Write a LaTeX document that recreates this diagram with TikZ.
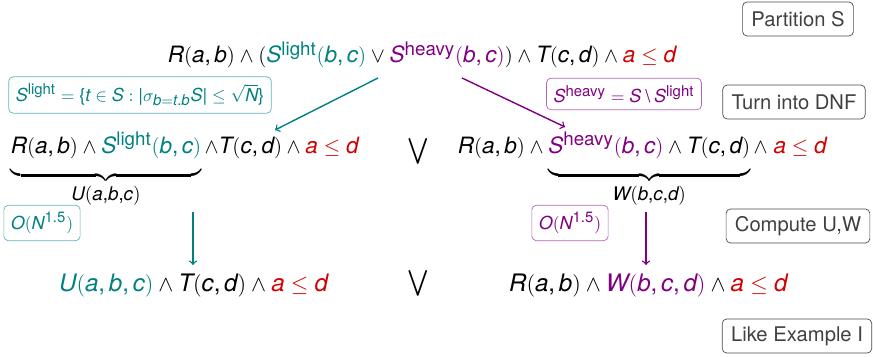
\documentclass[tikz,border=0pt]{standalone}
\usepackage{amsmath,amssymb}
\usepackage{fontspec}
\setmainfont{TeX Gyre Heros}
\usepackage[italic]{mathastext}
\usepackage{tikz}

\definecolor{lightc}{RGB}{0,128,128}
\definecolor{heavyc}{RGB}{128,0,128}
\definecolor{cmpc}{RGB}{210,0,0}
\newcommand{\Slight}{\textcolor{lightc}{S^{\text{light}}}}
\newcommand{\Sheavy}{\textcolor{heavyc}{S^{\text{heavy}}}}
\newcommand{\aled}{\textcolor{cmpc}{a \le d}}

\begin{document}
\begin{tikzpicture}[x=0.02cm,y=-0.02cm,
  every node/.style={font=\fontsize{12.8}{15}\selectfont,inner sep=2pt},
  stepbox/.style={draw=black!70,rounded corners=2.5pt,text=black!75,
    font=\fontsize{11.5}{14}\selectfont,minimum height=0.68cm,inner xsep=5pt},
  notebox/.style={draw,rounded corners=2.5pt,inner sep=4pt,
    font=\fontsize{10.2}{13}\selectfont}]
  \useasboundingbox (0,0) rectangle (873,357);

  % steps on the right
  \node[stepbox] (part) at (798,19)  {Partition S};
  \node[stepbox] (dnf)  at (794,102) {Turn into DNF};
  \node[stepbox] (comp) at (798,226) {Compute U,W};
  \node[stepbox] (like) at (797,336) {Like Example I};

  % original query
  \node[anchor=base] (q) at (422,63)
    {$R(a,b) \wedge (\Slight\textcolor{lightc}{(b,c)} \vee
      \Sheavy\textcolor{heavyc}{(b,c)}) \wedge T(c,d) \wedge \aled$};

  \node[notebox,draw=lightc!60,text=lightc] (nl) at (140,95)
    {$S^{\text{light}} = \{t \in S : |\sigma_{b=t.b} S| \le \sqrt{N}\}$};
  \node[notebox,draw=heavyc!60,text=heavyc] (nh) at (624,94)
    {$S^{\text{heavy}} = S \setminus S^{\text{light}}$};

  % DNF
  \node[anchor=base west] (l1) at (7,154)
    {$\underbrace{R(a,b) \wedge \Slight\textcolor{lightc}{(b,c)}\vphantom{\Big(}}_{U(a,b,c)}
      {\wedge}T(c,d) \wedge \aled$};
  \node[scale=1.15] (or1) at (418,151) {$\bigvee$};
  \node[anchor=base west] (r1) at (454,154)
    {$R(a,b) \wedge \underbrace{\Sheavy\textcolor{heavyc}{(b,c)} \wedge
      T(c,d)\vphantom{\Big(}}_{W(b,c,d)}\wedge\;\aled$};

  \node[notebox,draw=lightc!60,text=lightc] (ol) at (42,223) {$O(N^{\text{1.5}})$};
  \node[notebox,draw=heavyc!60,text=heavyc] (oh) at (570,223) {$O(N^{\text{1.5}})$};

  % result
  \node[anchor=base west,scale=1.07] (l2) at (55,292)
    {$\textcolor{lightc}{U(a,b,c)} \wedge T(c,d) \wedge \aled$};
  \node[scale=1.15] (or2) at (418,283) {$\bigvee$};
  \node[anchor=base west,scale=1.07] (r2) at (505,292)
    {$R(a,b) \wedge \textcolor{heavyc}{W(b,c,d)} \wedge \aled$};

  \coordinate (a1) at (378,78);  \coordinate (b1) at (275,130);
  \coordinate (a2) at (462,78);  \coordinate (b2) at (565,127);
  \coordinate (a3) at (193,212); \coordinate (b3) at (193,265);
  \coordinate (a4) at (646,212); \coordinate (b4) at (646,265);
  \draw[->,thick,lightc] (a1) -- (b1);
  \draw[->,thick,heavyc] (a2) -- (b2);
  \draw[->,thick,lightc] (a3) -- (b3);
  \draw[->,thick,heavyc] (a4) -- (b4);
\end{tikzpicture}
\end{document}
